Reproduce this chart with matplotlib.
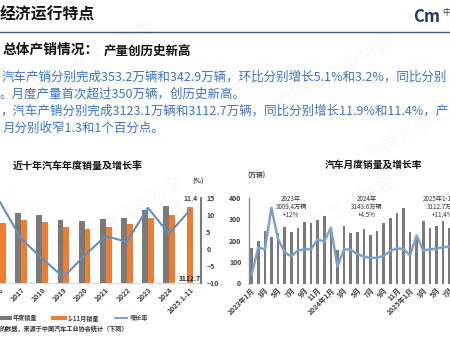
import numpy as np
import matplotlib
matplotlib.use('Agg')
import matplotlib.pyplot as plt
from matplotlib.lines import Line2D

plt.rcParams['font.family'] = ['Noto Sans CJK SC', 'DejaVu Sans']

# ---- data: annual chart ----
years = ['2016', '2017', '2018', '2019', '2020', '2021', '2022', '2023', '2024', '2025.1-11']
annual_sales = [2802.8, 2887.9, 2808.1, 2576.9, 2531.1, 2627.5, 2686.4, 3009.4, 3143.6, np.nan]
jan_nov_sales = [2468.0, 2588.0, 2519.0, 2290.0, 2220.0, 2314.0, 2424.0, 2683.0, 2793.0, 3112.7]
annual_growth = [13.7, 3.0, -2.8, -8.2, -1.9, 3.8, 2.1, 12.0, 4.5, 11.4]

# ---- data: monthly chart (2023.1 - 2025.11) ----
monthly_sales = [164.9, 197.6, 245.1, 216.6, 238.2, 262.2, 238.7, 258.2, 285.8, 285.3, 297.0, 315.6,
                 243.9, 158.4, 269.4, 235.9, 241.7, 255.3, 226.2, 245.3, 280.9, 305.3, 331.6, 351.6,
                 242.3, 212.9, 291.5, 259.0, 268.6, 290.4, 259.3, 285.7, 322.6, 332.1, 342.9]
monthly_growth = [-35.0, 13.5, 9.7, 82.7, 27.9, 4.8, -2.5, 8.2, 9.5, 10.5, 27.4, 23.5,
                  47.9, -19.9, 9.9, 9.3, 1.5, -2.7, -5.2, -5.0, -1.7, 7.0, 11.7, 10.5,
                  -0.6, 34.4, 8.2, 9.8, 11.2, 13.8, 14.7, 16.4, 14.9, 8.8, 3.4]
month_ticks = ['2023年1月', '3月', '5月', '7月', '9月', '11月',
               '2024年1月', '3月', '5月', '7月', '9月', '11月',
               '2025年1月', '3月', '5月', '7月', '9月', '11月']
year_notes = ['2023年\n3009.4万辆\n+12%', '2024年\n3143.6万辆\n+4.5%', '2025年1-11月\n3112.7万辆\n+11.4%']
note_pos = [6.0, 17.5, 28.9]

GRAY = '#7a7a7a'
ORANGE = '#ed7d31'
BLUE = '#5f8fc0'
BLUE2 = '#7aa3cf'
TXT = '#404040'
PARA = '#3a74bd'

W, H = 450, 337
fig = plt.figure(figsize=(4.5, 3.37), dpi=100)
fig.patch.set_facecolor('white')


def box(x0, y0, x1, y1):
    return [x0 / W, 1 - y1 / H, (x1 - x0) / W, (y1 - y0) / H]


def put(x, y, s, **kw):
    fig.text(x / W, 1 - y / H, s, **kw)


# faint watermark
for wx, wy in [(330, 75), (90, 60), (120, 215), (330, 215), (430, 120)]:
    put(wx, wy, '中国汽车工业协会', fontsize=13, color='#000000', alpha=0.025,
        rotation=30, ha='center', va='center', weight='bold')

# ---- header ----
put(0, 15, '经济运行特点', fontsize=11.4, weight='bold', color='#111111', va='center')
put(427, 17, 'Cm', fontsize=12, weight='bold', style='italic', color='#1f3a68', ha='center', va='center')
put(446, 13, '中', fontsize=6, color='#1f3a68', ha='center', va='center')
fig.add_artist(Line2D([0, 1], [1 - 32.3 / H] * 2, color='#3d5a7a', lw=1.0))

put(3, 50, '总体产销情况：', fontsize=9.9, weight='bold', color='#111111', va='center')
put(104, 51, '产量创历史新高', fontsize=9, weight='bold', color='#111111', va='center')

put(2, 77, '汽车产销分别完成353.2万辆和342.9万辆，环比分别增长5.1%和3.2%，同比分别',
    fontsize=9.0, color=PARA, va='center')
put(0, 94.5, '。月度产量首次超过350万辆，创历史新高。', fontsize=9.0, color=PARA, va='center')
put(0, 111.5, '，汽车产销分别完成3123.1万辆和3112.7万辆，同比分别增长11.9%和11.4%，产',
    fontsize=9.0, color=PARA, va='center')
put(3, 128.5, '月分别收窄1.3和1个百分点。', fontsize=9.0, color=PARA, va='center')

# ---- left chart: annual sales ----
ax1 = fig.add_axes(box(-10.5, 197.7, 200.7, 283.3))
x = np.arange(len(years))
bw = 0.28
ann = np.array(annual_sales)
ax1.bar(x - bw / 2, ann, width=bw, color=GRAY)
off = np.where(np.isnan(ann), 0, bw / 2)
ax1.bar(x + off, jan_nov_sales, width=bw, color=ORANGE)
ax1.set_xlim(-0.5, len(years) - 0.5)
ax1.set_ylim(0, 3500)
ax1.set_yticks([])
for s in ['top', 'left', 'right']:
    ax1.spines[s].set_visible(False)
ax1.spines['bottom'].set_color('#d9d9d9')
ax1.set_xticks(x)
ax1.set_xticklabels(years, rotation=45, ha='right', rotation_mode='anchor',
                    fontsize=5, weight='bold', color=TXT)
ax1.tick_params(axis='x', length=0, pad=2)
ax1.text(x[-1] + off[-1], 60, f'{jan_nov_sales[-1]:.1f}', ha='center', va='bottom',
         fontsize=4.8, weight='bold', color='#222222')

ax1r = ax1.twinx()
ax1r.plot(x, annual_growth, color=BLUE, lw=1.5)
ax1r.set_ylim(-10, 15)
ax1r.set_yticks(range(-10, 16, 5))
ax1r.tick_params(axis='y', length=0, pad=4, labelsize=5, labelcolor=TXT)
for lab in ax1r.get_yticklabels():
    lab.set_fontweight('bold')
for s in ['top', 'left', 'bottom']:
    ax1r.spines[s].set_visible(False)
ax1r.spines['right'].set_color(GRAY)
ax1r.spines['right'].set_linewidth(1.5)
ax1r.text(x[-1], annual_growth[-1] + 3.5, f'{annual_growth[-1]:.1f}', ha='center', va='center',
          fontsize=4.8, weight='bold', color=TXT)

put(78, 167, '近十年汽车年度销量及增长率', fontsize=7.2, weight='bold', color='#111111',
    ha='center', va='center')
put(198, 181, '(%)', fontsize=4.8, weight='bold', color=TXT, ha='center', va='center')

handles = [Line2D([], [], color=GRAY, lw=3),
           Line2D([], [], color=ORANGE, lw=3),
           Line2D([], [], color=BLUE, lw=1.2)]
fig.legend(handles, ['年度销量', '1-11月销量', '增长率'], loc='center left',
           bbox_to_anchor=(-0.005, 1 - 318 / H), ncol=3, frameon=False,
           prop={'size': 4.4, 'weight': 'bold'}, labelcolor=TXT,
           handlelength=2.0, handletextpad=0.4, columnspacing=2.6,
           borderaxespad=0, borderpad=0)
put(0, 328, '的数据，来源于中国汽车工业协会统计（下同）', fontsize=4.4, weight='bold',
    color='#333333', va='center')

# ---- right chart: monthly sales ----
ax2 = fig.add_axes(box(249, 198, 480, 283.5))
m = np.arange(len(monthly_sales))
ax2.bar(m, monthly_sales, width=0.4, color=GRAY)
ax2.set_xlim(-0.4, len(monthly_sales) - 0.4)
ax2.set_ylim(0, 400)
ax2.set_yticks(range(0, 401, 100))
ax2.tick_params(axis='y', length=0, pad=5.5, labelsize=5, labelcolor=TXT)
for lab in ax2.get_yticklabels():
    lab.set_fontweight('bold')
for s in ['top', 'right', 'bottom']:
    ax2.spines[s].set_visible(False)
ax2.spines['left'].set_color('#8c8c8c')
ax2.spines['left'].set_linewidth(1.0)
ax2.set_xticks(m[::2])
ax2.set_xticklabels(month_ticks, rotation=45, ha='right', rotation_mode='anchor',
                    fontsize=5, weight='bold', color=TXT)
ax2.tick_params(axis='x', length=0, pad=2)
for nx, s in zip(note_pos, year_notes):
    ax2.text(nx, 360, s, ha='center', va='center', fontsize=4.5, color='#333333',
             linespacing=1.0)

ax2r = ax2.twinx()
ax2r.plot(m, monthly_growth, color=BLUE2, lw=1.8)
ax2r.set_ylim(-50, 100)
ax2r.set_yticks([])
for s in ax2r.spines.values():
    s.set_visible(False)

put(374, 165, '汽车月度销量及增长率', fontsize=7, weight='bold', color='#111111',
    ha='center', va='center')
put(256, 175, '(万辆)', fontsize=4.8, weight='bold', color=TXT, ha='center', va='center')

fig.savefig('out.png', dpi=100)
